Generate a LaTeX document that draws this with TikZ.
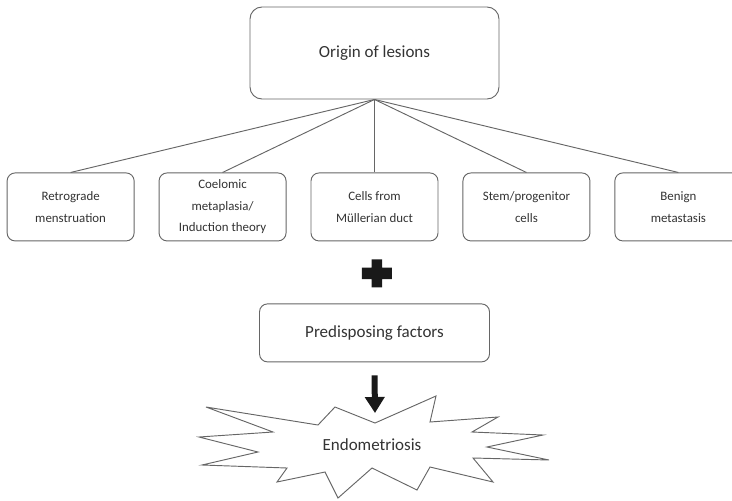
\documentclass[tikz,border=0pt]{standalone}
\usepackage{fontspec}
\setmainfont{Carlito}
\usepackage{xcolor}
\usepackage{tikz}
\usetikzlibrary{arrows.meta, positioning}

\begin{document}
\begin{tikzpicture}[
  node distance=0.72cm,
  origin/.style={rectangle, rounded corners=0.36cm, draw=black!60, thick,
                 minimum width=7.47cm, minimum height=2.76cm,
                 text=black!80, font=\fontsize{14.5}{16}\selectfont},
  theory/.style={rectangle, rounded corners=0.24cm, draw=black!60, thick,
                 minimum width=3.81cm, minimum height=2.04cm, align=center,
                 text=black!80, font=\fontsize{11}{18.4}\selectfont},
  factor/.style={rectangle, rounded corners=0.24cm, draw=black!60, thick,
                 minimum width=6.9cm, minimum height=1.74cm,
                 text=black!80, font=\fontsize{14.5}{16}\selectfont},
  branch/.style={draw=black!60, thick},
  fatarrow/.style={draw=black!90, line width=0.18cm,
                   -{Triangle[width=0.57cm, length=0.48cm]}},
]
  \useasboundingbox (0,0) rectangle (21.96,-15);

  \node[origin] (origin) at (11.235,-1.59) {Origin of lesions};
  \node[theory, below=2.19cm of origin] (mullerian) {Cells from\\Müllerian duct};
  \node[theory, left=of mullerian] (coelomic) {Coelomic\\metaplasia/\\Induction theory};
  \node[theory, left=of coelomic] (retrograde) {Retrograde\\menstruation};
  \node[theory, right=of mullerian] (stem) {Stem/progenitor\\cells};
  \node[theory, right=of stem] (benign) {Benign\\metastasis};

  % Fan out from the origin box
  \foreach \t in {retrograde, coelomic, mullerian, stem, benign}
    \draw[branch] (origin.south) -- (\t.north);

  % Plus sign
  \coordinate[below=0.96cm of mullerian] (plus);
  \fill[black!90] ([xshift=0.07cm]plus) ++(-0.45,-0.17) rectangle ++(0.9,0.34)
                  ([xshift=0.07cm]plus) ++(-0.16,-0.42) rectangle ++(0.32,0.84);

  \node[factor, below=1.86cm of mullerian] (factors) {Predisposing factors};

  % Starburst
  \node[font=\fontsize{14.5}{16}\selectfont, text=black!80] (endo) at (11.16,-13.35) {Endometriosis};
  \begin{scope}[shift={(endo)}, x=0.03cm, y=-0.03cm]
    \draw[black!60, thick]
      (3,-22) -- (64,-49) -- (58,-23) -- (126,-28) -- (100,-13) -- (171,-10)
      -- (115,2) -- (177,15) -- (101,13) -- (121,37) -- (58,22) -- (45,45)
      -- (0,23) -- (-34,53) -- (-47,27) -- (-95,37) -- (-85,23) -- (-170,20)
      -- (-114,7) -- (-173,-8) -- (-99,-13) -- (-166,-38) -- (-54,-20)
      -- (-37,-38) -- cycle;
    \coordinate (endotop) at (3,-22);
  \end{scope}

  \draw[fatarrow] ([yshift=-0.39cm]factors.south) -- ([yshift=0.3cm]endotop);
\end{tikzpicture}
\end{document}
